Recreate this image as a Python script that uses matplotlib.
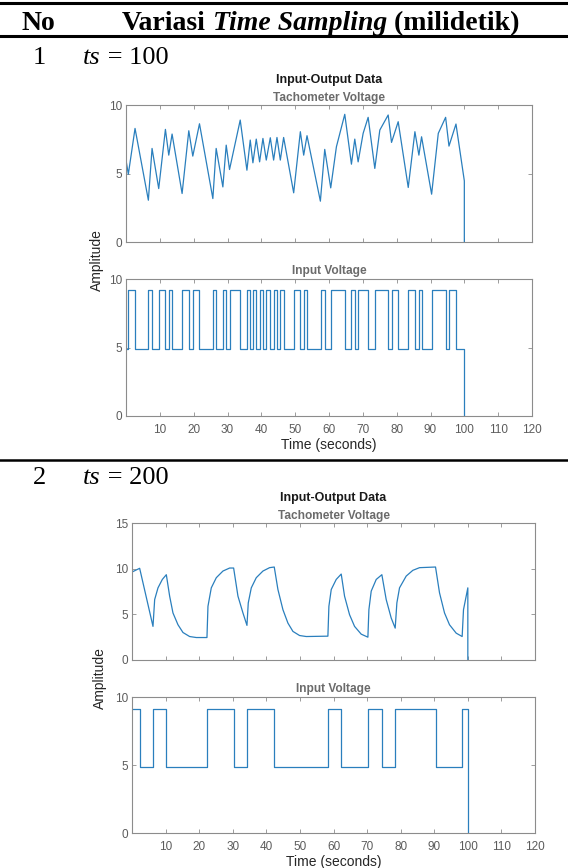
import matplotlib
matplotlib.use("Agg")
import matplotlib.pyplot as plt
import numpy as np

# ----------------------------
# Data
# ----------------------------
# ts = 100 : tachometer voltage vertices (time s, volt)
tach1_t = [0, 0.69, 2.67, 6.61, 7.70, 9.67, 11.65, 12.64, 13.62, 16.58, 18.56, 19.74,
           21.72, 25.67, 26.65, 28.63, 29.62, 30.60, 33.76, 35.74, 36.72, 37.51, 38.50,
           39.49, 40.47, 41.46, 42.65, 43.63, 44.62, 45.61, 46.59, 49.56, 51.53, 52.52,
           53.50, 57.45, 58.74, 60.51, 62.19, 64.66, 66.63, 67.62, 68.61, 70.09, 71.57,
           73.54, 75.02, 77.49, 78.48, 80.45, 83.42, 85.39, 86.57, 87.36, 90.33, 92.30,
           94.47, 95.46, 97.53, 100.0, 100.0]
tach1_v = [5.98, 4.95, 8.29, 3.05, 6.83, 3.90, 8.22, 6.34, 7.88, 3.54, 8.12, 6.27,
           8.63, 3.17, 6.83, 4.02, 7.07, 5.29, 8.90, 5.24, 7.44, 5.78, 7.51,
           5.85, 7.56, 5.98, 7.61, 5.98, 7.63, 5.98, 7.63, 3.59, 8.05, 6.34,
           7.76, 2.98, 6.76, 3.95, 6.95, 9.32, 5.68, 7.51, 5.85, 7.93, 9.10,
           5.37, 8.17, 9.27, 7.27, 8.78, 3.98, 8.05, 6.34, 7.68, 3.49, 7.93,
           9.10, 7.00, 8.61, 4.46, 0.0]

# ts = 100 : input voltage, high pulses (start, end) in seconds
in1_high = [(0.7, 2.7), (6.6, 7.7), (9.7, 11.6), (12.6, 13.6), (16.6, 18.6), (19.7, 21.7),
            (25.7, 26.7), (28.6, 29.6), (30.6, 33.8), (35.7, 36.7), (37.5, 38.5),
            (39.5, 40.5), (41.5, 42.6), (43.6, 44.6), (45.6, 46.6), (49.6, 51.5),
            (52.5, 53.5), (57.5, 58.7), (60.5, 64.7), (66.6, 67.6), (68.6, 71.6),
            (73.5, 77.5), (78.5, 80.5), (83.4, 85.4), (86.6, 87.4), (90.3, 94.5),
            (95.5, 97.5)]
in1_levels = (4.9, 9.2)

# ts = 200 : tachometer voltage
tach2_t = [0, 2.28, 6.25, 6.75, 7.74, 9.03, 10.22, 11.21, 12.20, 13.69, 15.18, 17.16,
           19.15, 22.32, 22.62, 23.61, 25.10, 27.08, 29.07, 30.26, 31.55, 33.04, 34.23,
           34.62, 35.52, 37.00, 38.99, 40.97, 42.36, 43.45, 44.94, 46.43, 47.92, 49.90,
           51.88, 58.33, 58.63, 59.33, 60.81, 62.30, 63.29, 64.78, 66.27, 68.25, 70.24,
           70.54, 71.23, 72.72, 74.40, 75.69, 77.18, 78.37, 78.87, 79.66, 81.65, 83.63,
           85.62, 90.38, 91.57, 93.06, 94.54, 96.53, 98.31, 98.71, 100.0, 100.0]
tach2_v = [9.63, 10.04, 3.68, 6.62, 7.90, 8.82, 9.34, 6.99, 5.15, 3.86, 3.01, 2.57,
           2.46, 2.46, 5.88, 7.90, 9.01, 9.74, 10.07, 10.07, 6.99, 5.15, 3.79,
           6.25, 7.90, 9.01, 9.74, 10.11, 10.18, 7.72, 5.51, 4.04, 3.13, 2.68,
           2.57, 2.61, 5.88, 7.72, 8.82, 9.41, 6.99, 4.96, 3.68, 2.83, 2.50,
           5.51, 7.54, 8.82, 9.34, 6.62, 4.60, 3.49, 6.25, 7.90, 9.19, 9.82,
           10.11, 10.18, 7.35, 5.15, 3.86, 2.94, 2.57, 5.51, 7.90, 0.0]

# ts = 200 : input voltage, high pulses
in2_high = [(0.0, 2.3), (6.3, 10.2), (22.3, 30.3), (34.3, 42.4), (58.3, 62.3),
            (70.3, 74.4), (78.4, 90.4), (98.3, 100.0)]
in2_levels = (4.85, 9.1)

t_end = 100.0
xticks = [10, 20, 30, 40, 50, 60, 70, 80, 90, 100, 110, 120]

line_col = "#2a7fbd"
spine_col = "#8c8c8c"
label_col = "#5c5c5c"
sans = ["Liberation Sans", "DejaVu Sans"]
serif = ["Liberation Serif", "DejaVu Serif"]

W, H = 568, 868
fig = plt.figure(figsize=(W / 100, H / 100), dpi=100)


def fx(x):
    return x / W


def fy(y):
    return 1 - y / H


def step_series(high, levels, start=0.0, end=t_end):
    lo, hi = levels
    t = [start]
    v = [hi if high[0][0] <= start else lo]
    for a, b in high:
        if a > start:
            t += [a, a]
            v += [lo, hi]
        t += [min(b, end), min(b, end)]
        v += [hi, lo if b < end else hi]
    if t[-1] < end:
        t.append(end)
        v.append(lo)
    t.append(end)
    v.append(0.0)
    return t, v


def style_axes(ax, ylim, yticks, show_x):
    ax.set_xlim(0, 120)
    ax.set_ylim(*ylim)
    ax.set_xticks(xticks)
    ax.set_yticks(yticks)
    ax.tick_params(direction="in", top=True, right=True, length=3, width=0.6,
                   colors=spine_col, labelcolor=label_col, labelsize=8.5, pad=3)
    ax.tick_params(axis="x", pad=6)
    for lab in ax.get_xticklabels() + ax.get_yticklabels():
        lab.set_family(sans)
    if not show_x:
        ax.set_xticklabels([])
    for s in ax.spines.values():
        s.set_color(spine_col)
        s.set_linewidth(0.8)


def make_block(x0, x1, top_a, bot_a, top_b, bot_b, title_y, tach_t, tach_v,
               tach_ylim, tach_yticks, in_high, in_levels, amp_x):
    ax_a = fig.add_axes([fx(x0), fy(bot_a), fx(x1 - x0), (bot_a - top_a) / H])
    ax_b = fig.add_axes([fx(x0), fy(bot_b), fx(x1 - x0), (bot_b - top_b) / H])

    ax_a.plot(tach_t, tach_v, color=line_col, lw=0.9)
    style_axes(ax_a, tach_ylim, tach_yticks, False)
    ax_a.set_title("Tachometer Voltage", color="#6b6b6b", fontsize=8.6,
                   fontweight="bold", family=sans, pad=3)

    st, sv = step_series(in_high, in_levels)
    ax_b.plot(st, sv, color=line_col, lw=0.9)
    style_axes(ax_b, (0, 10), [0, 5, 10], True)
    ax_b.set_title("Input Voltage", color="#6b6b6b", fontsize=8.6,
                   fontweight="bold", family=sans, pad=3.5)
    ax_b.set_xlabel("Time (seconds)", fontsize=10, color="#262626",
                    family=sans, labelpad=1)

    fig.text(fx((x0 + x1) / 2), fy(title_y), "Input-Output Data", ha="center",
             va="center", fontsize=9, fontweight="bold", family=sans, color="#1a1a1a")
    fig.text(fx(amp_x), fy((bot_a + top_b) / 2), "Amplitude", rotation=90,
             ha="center", va="center", fontsize=10, family=sans, color="#262626")


# ----------------------------
# Table frame and text
# ----------------------------
for y, lw in [(2.8, 2.2), (35.5, 2.2), (460, 1.8)]:
    fig.add_artist(plt.Line2D([0, 1], [fy(y), fy(y)], color="black", lw=lw))

fig.text(fx(21), fy(30), "No", fontsize=20, fontweight="bold", family=serif,
         va="baseline", ha="left")
h1 = fig.text(fx(122), fy(30), "Variasi", fontsize=20, fontweight="bold",
              family=serif, va="baseline", ha="left")
h2 = fig.text(0, 0, " Time Sampling", fontsize=20, fontweight="bold", fontstyle="italic",
              family=serif, va="bottom", ha="left")
h3 = fig.text(0, 0, " (milidetik)", fontsize=20, fontweight="bold", family=serif,
              va="bottom", ha="left")

rows = [("1", "100", 64), ("2", "200", 484)]
row_texts = []
for num, val, base in rows:
    fig.text(fx(33), fy(base), num, fontsize=19, family=serif, va="baseline", ha="left")
    a = fig.text(fx(83), fy(base), "ts", fontsize=19, fontstyle="italic", family=serif,
                 va="baseline", ha="left")
    b = fig.text(0, 0, " = " + val, fontsize=19, family=serif, va="bottom", ha="left")
    row_texts.append((a, b))

# chain the mixed-style pieces after each other
fig.canvas.draw()
r = fig.canvas.get_renderer()
inv = fig.transFigure.inverted()


def place_after(prev, nxt):
    bb = prev.get_window_extent(r)
    x, y = inv.transform((bb.x1, bb.y0))
    nxt.set_position((x, y))


place_after(h1, h2)
place_after(h2, h3)
for a, b in row_texts:
    place_after(a, b)

# ----------------------------
# Plots
# ----------------------------
make_block(126, 532, 105, 242, 279, 416, 80, tach1_t, tach1_v, (0, 10), [0, 5, 10],
           in1_high, in1_levels, 97)
make_block(132, 535, 523, 660, 697, 833, 498, tach2_t, tach2_v, (0, 15), [0, 5, 10, 15],
           in2_high, in2_levels, 100)

fig.savefig("out.png", dpi=100)
